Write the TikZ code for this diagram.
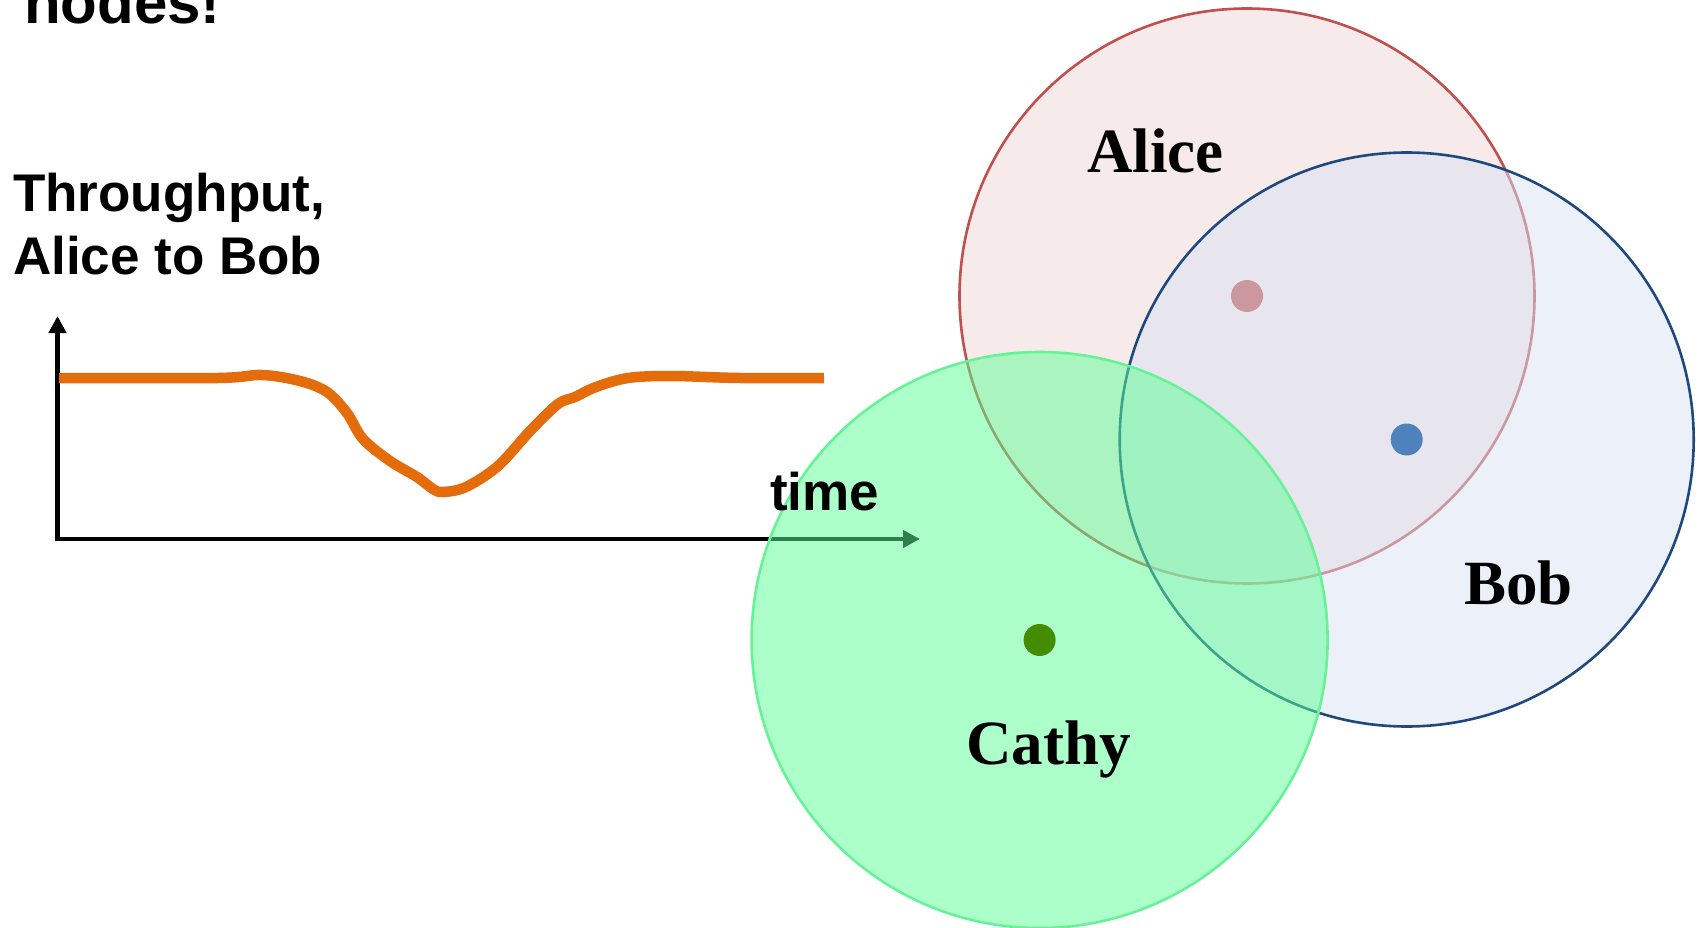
\documentclass[tikz,border=0pt]{standalone}
\usepackage{fontspec}
\usetikzlibrary{arrows.meta}
\newfontfamily\axisfont{Liberation Sans}
\newfontfamily\peerfont{Liberation Serif}
\definecolor{alicefill}{RGB}{247,234,234}
\definecolor{alicedraw}{RGB}{192,80,77}
\definecolor{bobfill}{RGB}{217,225,241}
\definecolor{bobdraw}{RGB}{31,73,125}
\definecolor{bobdot}{RGB}{79,129,189}
\definecolor{cathyfill}{RGB}{92,255,150}
\definecolor{cathydraw}{RGB}{102,243,152}
\definecolor{cathydot}{RGB}{68,140,0}
\definecolor{tput}{RGB}{228,108,10}
\begin{document}
\begin{tikzpicture}[x=1pt,y=-1pt,
  sanslabel/.style={inner sep=0pt, anchor=base west,
    font=\axisfont\bfseries\fontsize{53}{63}\selectfont},
  titlelabel/.style={inner sep=0pt, anchor=base west,
    font=\axisfont\bfseries\fontsize{60}{70}\selectfont},
  peerlabel/.style={inner sep=0pt, anchor=base west,
    font=\peerfont\bfseries\fontsize{63}{73}\selectfont},
  axisline/.style={line width=4.5pt, line join=miter,
    {Triangle[length=17pt,width=17pt]}-{Triangle[length=17pt,width=17pt]}},
  rangeline/.style={line width=2.6pt},
  peerdot/.style={radius=16}
]
\useasboundingbox (0,0) rectangle (1698,928);

% heading fragment at the top edge
\node[titlelabel] (title) at (24,24) {nodes!};

% throughput plot
\node[sanslabel] (ylab1) at (13,212) {Throughput,};
\node[sanslabel] (ylab2) at (13,274) {Alice to Bob};

\coordinate (origin) at (57.5,539);
\coordinate (ytip) at (57.5,316);
\coordinate (xtip) at (920,539);
\draw[axisline] (ytip) -- (origin) -- (xtip);

\draw[tput, line width=10.5pt] plot[smooth, tension=0.55] coordinates {
  (59,378) (217,378) (262,375) (300,381) (327,392) (347,413) (363,439)
  (390,461) (417,477) (433,489) (443,492) (466,487) (498,466) (531,430)
  (558,404) (575,397) (596,387) (628,378) (671,376) (740,378) (824,378)};

% radio ranges of the three stations
\coordinate (alice) at (1247,296);
\coordinate (bob) at (1406.7,439.5);
\coordinate (cathy) at (1039.6,640);

\filldraw[rangeline, fill=alicefill, draw=alicedraw] (alice) circle[radius=287.5];
\fill[alicedraw] (alice) circle[peerdot];

\fill[bobfill, fill opacity=0.5] (bob) circle[radius=287];
\draw[rangeline, bobdraw] (bob) circle[radius=287];
\fill[bobdot] (bob) circle[peerdot];

\fill[cathyfill, fill opacity=0.5] (cathy) circle[radius=288];
\draw[rangeline, cathydraw] (cathy) circle[radius=288];
\fill[cathydot] (cathy) circle[peerdot];

\node[sanslabel] (xlab) at (770,510) {time};

\node[peerlabel] (alicename) at (1087,173) {Alice};
\node[peerlabel] (bobname) at (1464,604) {Bob};
\node[peerlabel] (cathyname) at (966,764) {Cathy};
\end{tikzpicture}
\end{document}
